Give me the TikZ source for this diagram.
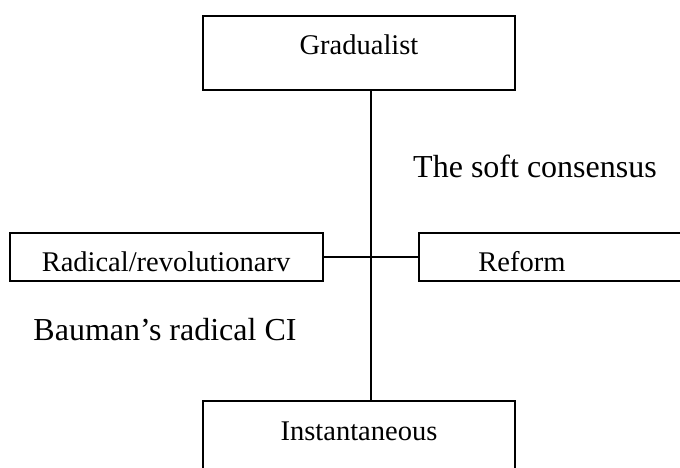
\documentclass[tikz,border=0pt]{standalone}
\usepackage{fontspec}
\setmainfont{Liberation Serif}
\begin{document}
\begin{tikzpicture}[x=1pt,y=-1pt,
  box/.style={draw, line width=1.5pt, inner sep=0pt, outer sep=0pt},
  boxtext/.style={anchor=base, inner sep=0pt, font=\fontsize{28.5}{30}\selectfont},
  bigtext/.style={anchor=base, inner sep=0pt, font=\fontsize{32}{34}\selectfont},
  link/.style={line width=1.5pt}]
\clip (0,0) rectangle (680,467);
\fill[white] (0,0) rectangle (680,467);
% boxes
\node[box, minimum width=312pt, minimum height=74pt] (grad) at (359,53) {};
\node[box, minimum width=313pt, minimum height=48pt] (rad) at (166.5,257) {};
\node[box, minimum width=290pt, minimum height=48pt] (ref) at (564,257) {};
\node[box, minimum width=312pt, minimum height=74pt] (inst) at (359,438) {};
% texts
\node[boxtext] (tgrad) at (359,54) {Gradualist};
\node[boxtext] (trad) at (166,271) {Radical/revolutionarv};
\node[boxtext] (tref) at (522,271) {Reform};
\node[boxtext] (tinst) at (359,440) {Instantaneous};
\node[bigtext] (soft) at (535,177) {The soft consensus};
\node[bigtext] (baum) at (165,340) {Bauman’s radical CI};
% connectors
\coordinate (v) at (371,0);
\draw[link] (grad.south -| v) -- (inst.north -| v);
\draw[link] (rad.east) -- (ref.west);
\end{tikzpicture}
\end{document}
